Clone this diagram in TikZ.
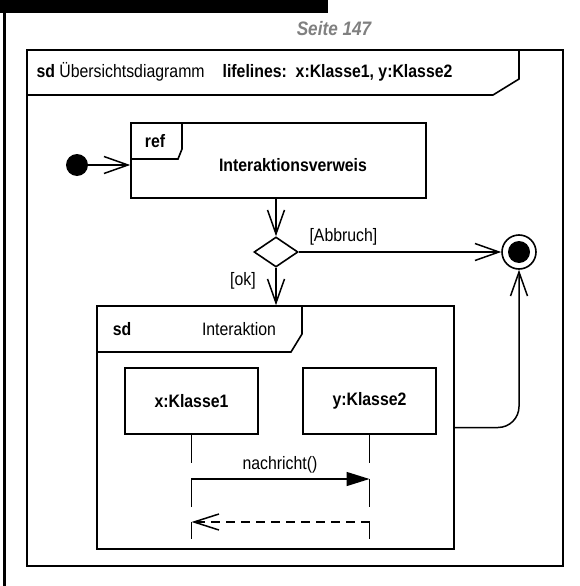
\documentclass[tikz,border=0pt]{standalone}
\usepackage{fontspec}
\setmainfont{Liberation Sans}[FakeStretch=0.88]
\usetikzlibrary{arrows.meta,shapes.geometric}

\begin{document}
\begin{tikzpicture}[x=1pt,y=-1pt,
    box/.style={draw, line width=1.6pt, inner sep=0pt},
    lbl/.style={font=\fontsize{18}{21}\selectfont},
    blbl/.style={font=\fontsize{18}{21}\selectfont\bfseries},
    flow/.style={line width=1.5pt, -{Straight Barb[length=24pt,width=17pt]}},
    life/.style={line width=1.5pt}
    ]
    \useasboundingbox (0,0) rectangle (580,586);
    \fill (0,0) rectangle (328,13);
    \draw[line width=2.6pt] (4.5,13) -- (4.5,586);
    \node[font=\fontsize{19.5}{22}\selectfont\bfseries\itshape, text=gray] (page) at (334,29) {Seite 147};

    \node[box, minimum width=536pt, minimum height=516pt] (frame) at (295,308) {};
    \draw[line width=1.6pt] (27,95) -- (493,95) -- (519,79) -- (519,50);
    \node[lbl, anchor=west] (title) at (33,72) {\textbf{sd} Übersichtsdiagramm\quad\textbf{lifelines:\ \ x:Klasse1, y:Klasse2}};

    \node[circle, fill, minimum size=22pt, inner sep=0pt] (start) at (77,165) {};
    \node[box, minimum width=295pt, minimum height=75pt] (ref) at (278.5,160.5) {};
    \draw[line width=1.6pt] (182,123) -- (182,149) -- (178,159) -- (131,159);
    \node[blbl] (reftag) at (155,141) {ref};
    \node[blbl] (refname) at (293,165) {Interaktionsverweis};
    \draw[flow] (start) -- (ref.west |- start);

    \node[diamond, draw, line width=1.6pt, minimum width=44pt, minimum height=30pt, inner sep=0pt] (dec) at (276,252) {};
    \node[box, minimum width=357pt, minimum height=243pt] (sd) at (275.5,427.5) {};
    \node[circle, draw, line width=1.6pt, fill=white, minimum size=34pt, inner sep=0pt] (final) at (519,252) {};
    \node[circle, fill, minimum size=22pt, inner sep=0pt] (finaldot) at (final) {};
    \draw[flow] (dec |- ref.south) -- (dec.north);
    \draw[flow] (dec.south) -- (dec |- sd.north);
    \draw[flow] (dec.east) -- (final.west);
    \draw[flow, rounded corners=21pt] (sd.east) -- (final |- sd.east) -- (final.south);
    \node[lbl, anchor=west] (abbruch) at (306,237) {[Abbruch]};
    \node[lbl] (ok) at (243,281) {[ok]};

    \draw[line width=1.6pt] (302,306) -- (302,334) -- (291,352) -- (97,352);
    \node[blbl] (sdtag) at (122,329) {sd};
    \node[lbl] (sdname) at (239,329) {Interaktion};
    \node[box, blbl, minimum width=133pt, minimum height=66pt] (obj1) at (191.5,401) {x:Klasse1};
    \node[box, blbl, minimum width=133pt, minimum height=66pt] (obj2) at (369.5,401) {y:Klasse2};

    \coordinate (gap1) at (191.5,463);
    \coordinate (gap2) at (369.5,463);
    \coordinate (msgA) at (191.5,479);
    \coordinate (msgB) at (369.5,479);
    \coordinate (endA) at (191.5,507);
    \coordinate (endB) at (369.5,507);
    \coordinate (retA) at (191.5,522);
    \coordinate (retB) at (369.5,522);
    \coordinate (botA) at (191.5,539);
    \coordinate (botB) at (369.5,539);
    \draw[life] (obj1.south) -- (gap1);
    \draw[life] (obj2.south) -- (gap2);
    \draw[life, -{Triangle[length=23pt,width=14pt]}] (endA) -- (msgA) -- (msgB);
    \draw[life] (msgB) -- (endB);
    \node[lbl] (msg) at (280,465) {nachricht()};
    \draw[life, dash pattern=on 9pt off 6pt, -{Straight Barb[length=25pt,width=16pt]}] (retB) -- (retA);
    \draw[life] (retB) -- (botB);
    \draw[life] (retA) -- (botA);
\end{tikzpicture}
\end{document}
